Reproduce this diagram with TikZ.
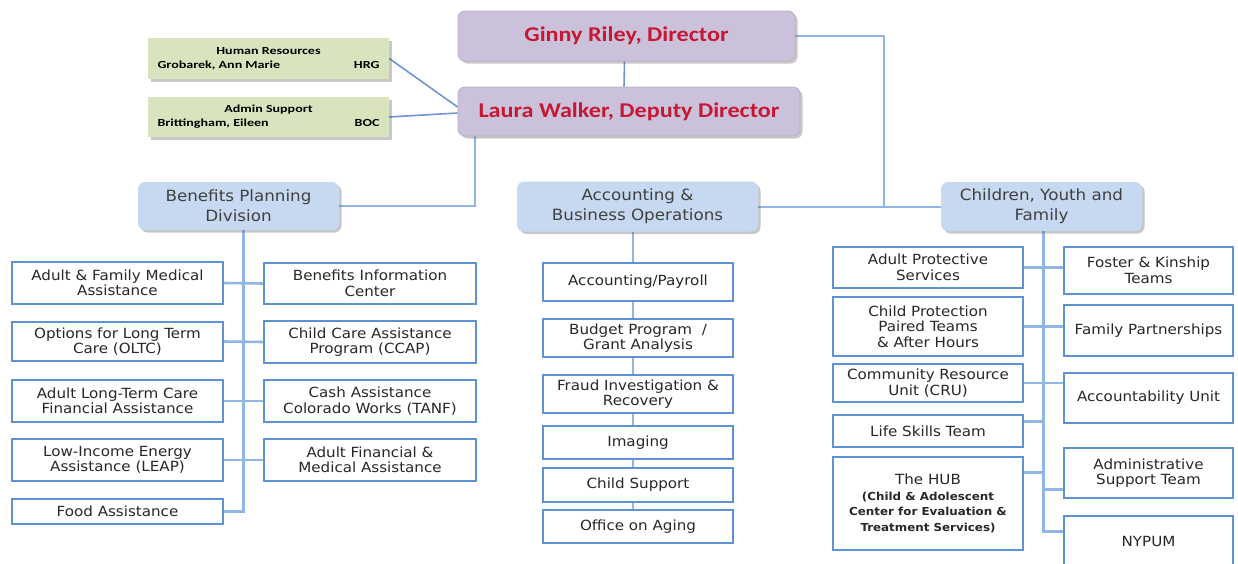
\documentclass[tikz,border=0pt]{standalone}
\usepackage{fontspec}
\setmainfont{DejaVu Sans}[FakeStretch=1.08]
\newfontfamily\leadfont{Carlito}[FakeStretch=1.15]
\newfontfamily\stafffont{Carlito}[FakeStretch=1.3]
\usetikzlibrary{shadows,calc,backgrounds}

\definecolor{lav}{RGB}{204,193,218}
\definecolor{lavedge}{RGB}{186,174,204}
\definecolor{dirred}{RGB}{196,24,52}
\definecolor{divblue}{RGB}{198,217,241}
\definecolor{staffgreen}{RGB}{215,228,189}
\definecolor{unitedge}{RGB}{95,145,215}
\definecolor{wirecol}{RGB}{146,182,228}
\definecolor{topwire}{RGB}{110,150,208}
\definecolor{hdrtext}{RGB}{64,64,64}
\definecolor{unittext}{RGB}{40,40,40}

\newcommand{\hubsmall}{\bfseries\fontsize{11}{15}\selectfont}

\tikzset{
  x=1pt, y=-1pt,
  softshadow/.style={drop shadow={opacity=0.3, shadow xshift=2.5pt, shadow yshift=-2.5pt, fill=black!70}},
  lead/.style={draw=lavedge, line width=0.8pt, fill=lav, rounded corners=7pt, softshadow,
    font=\leadfont\bfseries\fontsize{21}{24}\selectfont, text=dirred, inner sep=0pt},
  staff/.style={fill=staffgreen, softshadow, inner sep=0pt, text=black,
    font=\stafffont\bfseries\fontsize{10.8}{14}\selectfont},
  division/.style={fill=divblue, rounded corners=7pt, softshadow, align=center, inner sep=0pt,
    font=\fontsize{15.5}{20}\selectfont, text=hdrtext},
  unit/.style={draw=unitedge, line width=1.3pt, fill=white, align=center, inner sep=0pt,
    font=\fontsize{14}{15.5}\selectfont, text=unittext},
  wire/.style={draw=wirecol, line width=2.6pt},
  leadwire/.style={draw=topwire, line width=1.6pt},
}

\begin{document}
\begin{tikzpicture}
\useasboundingbox (0,0) rectangle (1238,563);

% --- directors and staff ---
\node[lead, minimum width=337pt, minimum height=50pt] (gr) at (626.5,36) {Ginny Riley, Director};
\node[lead, minimum width=342pt, minimum height=49pt] (lw) at (629,111.5) {Laura Walker, Deputy Director};

\node[staff, minimum width=241pt, minimum height=41pt] (hr) at (268.5,58.5)
  {\begin{tabular*}{222pt}{@{}l@{\extracolsep{\fill}}r@{}}\multicolumn{2}{c}{Human Resources}\\ Grobarek, Ann Marie & HRG\end{tabular*}};
\node[staff, minimum width=241pt, minimum height=40pt] (as) at (268.5,117)
  {\begin{tabular*}{222pt}{@{}l@{\extracolsep{\fill}}r@{}}\multicolumn{2}{c}{Admin Support}\\ Brittingham, Eileen & BOC\end{tabular*}};

% --- divisions ---
\node[division, minimum width=201pt, minimum height=48pt] (bp) at (238.5,206) {Benefits Planning\\Division};
\node[division, minimum width=241pt, minimum height=50pt] (ab) at (637.5,206.5) {Accounting \&\\Business Operations};
\node[division, minimum width=201pt, minimum height=49pt] (cyf) at (1041.5,206.5) {Children, Youth and\\Family};

% --- Benefits Planning units ---
\node[unit, minimum width=211pt, minimum height=42pt] (afm)  at (117.5,283)   {Adult \& Family Medical\\Assistance};
\node[unit, minimum width=211pt, minimum height=39pt] (oltc) at (117.5,341.5) {Options for Long Term\\Care (OLTC)};
\node[unit, minimum width=211pt, minimum height=42pt] (altc) at (117.5,401)   {Adult Long-Term Care\\Financial Assistance};
\node[unit, minimum width=211pt, minimum height=42pt] (leap) at (117.5,460)   {Low-Income Energy\\Assistance (LEAP)};
\node[unit, minimum width=211pt, minimum height=25pt] (food) at (117.5,511.5) {Food Assistance};

\node[unit, minimum width=212pt, minimum height=41pt] (bic)  at (370,283.5) {Benefits Information\\Center};
\node[unit, minimum width=212pt, minimum height=42pt] (ccap) at (370,342)   {Child Care Assistance\\Program (CCAP)};
\node[unit, minimum width=212pt, minimum height=42pt] (tanf) at (370,401)   {Cash Assistance\\Colorado Works (TANF)};
\node[unit, minimum width=212pt, minimum height=42pt] (afma) at (370,460)   {Adult Financial \&\\Medical Assistance};

% --- Accounting & Business Operations units ---
\node[unit, minimum width=190pt, minimum height=38pt] (ap)  at (638,282)   {Accounting/Payroll};
\node[unit, minimum width=190pt, minimum height=38pt] (bpg) at (638,338)   {Budget Program \ /\\Grant Analysis};
\node[unit, minimum width=190pt, minimum height=38pt] (fi)  at (638,394)   {Fraud Investigation \&\\Recovery};
\node[unit, minimum width=190pt, minimum height=33pt] (img) at (638,442.5) {Imaging};
\node[unit, minimum width=190pt, minimum height=34pt] (cs)  at (638,485)   {Child Support};
\node[unit, minimum width=190pt, minimum height=33pt] (oa)  at (638,526.5) {Office on Aging};

% --- Children, Youth and Family units ---
\node[unit, minimum width=190pt, minimum height=41pt] (aps) at (928,267.5) {Adult Protective\\Services};
\node[unit, minimum width=190pt, minimum height=59pt] (cp)  at (928,326.5) {Child Protection\\Paired Teams\\\& After Hours};
\node[unit, minimum width=190pt, minimum height=38pt] (cru) at (928,383)   {Community Resource\\Unit (CRU)};
\node[unit, minimum width=190pt, minimum height=32pt] (ls)  at (928,431)   {Life Skills Team};
\node[unit, minimum width=190pt, minimum height=93pt] (hub) at (928,503.5)
  {The HUB\\\hubsmall (Child \& Adolescent\\\hubsmall Center for Evaluation \&\\\hubsmall Treatment Services)};

\node[unit, minimum width=169pt, minimum height=47pt] (fk)  at (1148.5,270.5) {Foster \& Kinship\\Teams};
\node[unit, minimum width=169pt, minimum height=51pt] (fp)  at (1148.5,330.5) {Family Partnerships};
\node[unit, minimum width=169pt, minimum height=50pt] (au)  at (1148.5,398)   {Accountability Unit};
\node[unit, minimum width=169pt, minimum height=50pt] (ast) at (1148.5,473)   {Administrative\\Support Team};
\node[unit, minimum width=169pt, minimum height=50pt] (ny)  at (1148.5,541)   {NYPUM};

% --- connectors, kept behind the boxes ---
\begin{pgfonlayer}{background}
  \fill[white] (0,0) rectangle (1238,563);

  % directors and staff
  \draw[leadwire] ($(gr.south)+(-2,0)$) -- ($(lw.north)+(-5,0)$);
  \draw[leadwire] (hr.east) -- ([yshift=4.5pt]lw.west);
  \draw[leadwire] (as.east) -- ([yshift=-1.5pt]lw.west);
  \coordinate (lwfoot) at ($(lw.south west)+(17,0)$);
  \draw[wire, line width=2pt] (lwfoot) |- (bp.east);
  \coordinate (jn) at ($(ab.east)!0.69!(cyf.west)$);
  \draw[wire, line width=2pt] (gr.east) -| (jn);
  \draw[wire, line width=2pt] (ab.east) -- (cyf.west);

  % Benefits Planning tree
  \coordinate (btk) at ($(afm.east)!0.5!(bic.west)$);
  \draw[wire] (btk |- bp.south) -- (btk |- food.east) -- (food.east);
  \draw[wire] (afm.east)  -- (bic.west);
  \draw[wire] (oltc.east) -- (ccap.west);
  \draw[wire] (altc.east) -- (tanf.west);
  \draw[wire] (leap.east) -- (afma.west);

  % Accounting & Business Operations tree
  \coordinate (atk) at ($(oa.north)+(-5,0)$);
  \draw[wire] (atk |- ab.south) -- (atk);

  % Children, Youth and Family tree
  \coordinate (ctk) at ($(aps.east)!0.5!(aps.east -| fk.west)$);
  \coordinate (nyin) at ($(ny.north west)+(0,16)$);
  \coordinate (lsin) at ($(ls.north east)+(0,7)$);
  \coordinate (hubin) at ($(hub.north east)+(0,16)$);
  \coordinate (astin) at ($(ast.north west)+(0,42)$);
  \draw[wire] (ctk |- cyf.south) -- (ctk |- nyin) -- (nyin);
  \draw[wire] (aps.east) -- (aps.east -| fk.west);
  \draw[wire] (cp.east)  -- (cp.east -| fp.west);
  \draw[wire] (cru.east) -- (cru.east -| au.west);
  \draw[wire] (lsin) -- (ctk |- lsin);
  \draw[wire] (hubin) -- (ctk |- hubin);
  \draw[wire] (ctk |- astin) -- (astin);
\end{pgfonlayer}
\end{tikzpicture}
\end{document}
